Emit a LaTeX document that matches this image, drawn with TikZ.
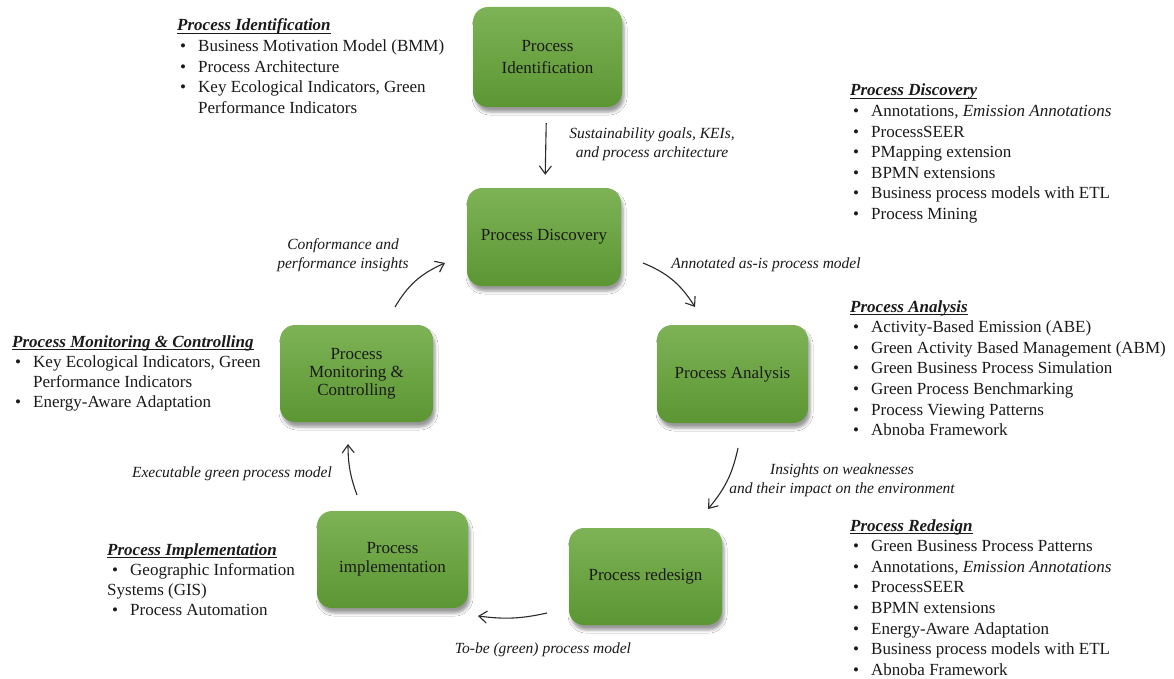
\documentclass[tikz,border=0pt]{standalone}
\usepackage{fontspec}
\setmainfont{Liberation Serif}
\usetikzlibrary{arrows.meta,shadows.blur,bending}
\definecolor{boxtop}{HTML}{7DB356}
\definecolor{boxbot}{HTML}{5C9633}
\definecolor{inkc}{HTML}{1A1A1A}
\definecolor{arrowc}{HTML}{2A2A2A}
\newcommand\lsthead[1]{\hbox{\setbox0=\hbox{\bfseries\itshape #1}\rlap{\rule[-2.8pt]{\wd0}{0.9pt}}\box0}}
\newcommand\lstitem[1]{\hbox{\hspace*{3pt}\makebox[18pt][l]{\textbullet}#1}}
\newcommand\lstcont[1]{\hbox{\hspace*{21pt}#1}}
\newcommand\lstflush[1]{\hbox{#1}}
\tikzset{
  procbox/.style={rounded corners=15pt, top color=boxtop, bottom color=boxbot, draw=none,
    inner sep=0pt, align=center, text=inkc, font=\fontsize{17}{19}\selectfont,
    blur shadow={shadow xshift=2pt, shadow yshift=-5pt, shadow blur radius=3pt, shadow opacity=40}},
  lbl/.style={font=\fontsize{15.5}{19}\selectfont\itshape, align=center, inner sep=0pt, text=inkc},
  lst/.style={anchor=base west, inner sep=0pt, text=inkc, font=\fontsize{17}{20.6}\selectfont},
  conn/.style={line width=1.1pt, draw=arrowc, -{Straight Barb[length=8pt,width=12pt,bend]}}
}
\begin{document}
\begin{tikzpicture}[x=1pt,y=-1pt]
\useasboundingbox[fill=white] (0,0) rectangle (1174,679);

% process boxes
\node[procbox, minimum width=149pt, minimum height=100pt] (ident) at (547.5,57) {Process\\[3pt]Identification};
\node[procbox, minimum width=154pt, minimum height=98pt] (disc) at (544,237) {Process Discovery};
\node[procbox, minimum width=151pt, minimum height=98pt] (anal) at (732.5,374) {Process Analysis};
\node[procbox, minimum width=153pt, minimum height=97pt] (redes) at (645.5,576.5) {Process redesign};
\node[procbox, minimum width=151pt, minimum height=97pt] (impl) at (392.5,559.5) {Process\\implementation};
\node[procbox, minimum width=153pt, minimum height=97pt, font=\fontsize{17}{18}\selectfont] (monit) at (356.5,373.5) {Process\\Monitoring \&\\Controlling};

% connector end points
\coordinate (a2s) at (643,263); \coordinate (a2e) at (695,307);
\coordinate (a3s) at (738,448); \coordinate (a3e) at (708,509);
\coordinate (a4s) at (547,613); \coordinate (a4e) at (478,616);
\coordinate (a5s) at (357,495); \coordinate (a5e) at (348,444);
\coordinate (a6s) at (395,307); \coordinate (a6e) at (445,263);

% connectors
\draw[conn, shorten <=16pt, shorten >=13pt] (ident) -- (disc);
\draw[conn] (a2s) to[bend left=18] (a2e);
\draw[conn] (a3s) to[bend left=14] (a3e);
\draw[conn] (a4s) to[bend left=10] (a4e);
\draw[conn] (a5s) to[bend left=10] (a5e);
\draw[conn] (a6s) to[bend left=18] (a6e);

% connector labels
\node[lbl] (l1) at (652,144) {Sustainability goals, KEIs,\\and process architecture};
\node[lbl] (l2) at (766,265) {Annotated as-is process model};
\node[lbl] (l3) at (842,480) {Insights on weaknesses\\and their impact on the environment};
\node[lbl] (l4) at (543,650) {To-be (green) process model};
\node[lbl] (l5) at (232,474) {Executable green process model};
\node[lbl] (l6) at (343,255) {Conformance and\\performance insights};

% lists
\node[lst] (identlist) at (177,31) {\vtop{\fontsize{17}{20.6}\selectfont
  \lsthead{Process Identification}
  \lstitem{Business Motivation Model (BMM)}
  \lstitem{Process Architecture}
  \lstitem{Key Ecological Indicators, Green}
  \lstcont{Performance Indicators}}};

\node[lst] (disclist) at (850,96) {\vtop{\fontsize{17}{20.6}\selectfont
  \lsthead{Process Discovery}
  \lstitem{Annotations, \textit{Emission Annotations}}
  \lstitem{ProcessSEER}
  \lstitem{PMapping extension}
  \lstitem{BPMN extensions}
  \lstitem{Business process models with ETL}
  \lstitem{Process Mining}}};

\node[lst] (anallist) at (850,312) {\vtop{\fontsize{17}{20.6}\selectfont
  \lsthead{Process Analysis}
  \lstitem{Activity-Based Emission (ABE)}
  \lstitem{Green Activity Based Management (ABM)}
  \lstitem{Green Business Process Simulation}
  \lstitem{Green Process Benchmarking}
  \lstitem{Process Viewing Patterns}
  \lstitem{Abnoba Framework}}};

\node[lst] (redeslist) at (850,531) {\vtop{\fontsize{17}{20.6}\selectfont
  \lsthead{Process Redesign}
  \lstitem{Green Business Process Patterns}
  \lstitem{Annotations, \textit{Emission Annotations}}
  \lstitem{ProcessSEER}
  \lstitem{BPMN extensions}
  \lstitem{Energy-Aware Adaptation}
  \lstitem{Business process models with ETL}
  \lstitem{Abnoba Framework}}};

\node[lst] (monitlist) at (12,347) {\vtop{\fontsize{17}{20.3}\selectfont
  \lsthead{Process Monitoring \& Controlling}
  \lstitem{Key Ecological Indicators, Green}
  \lstcont{Performance Indicators}
  \lstitem{Energy-Aware Adaptation}}};

\node[lst] (impllist) at (107,555) {\vtop{\fontsize{17}{20.3}\selectfont
  \lsthead{Process Implementation}
  \hbox{\hspace*{5pt}\makebox[18pt][l]{\textbullet}Geographic Information}
  \lstflush{Systems (GIS)}
  \hbox{\hspace*{5pt}\makebox[18pt][l]{\textbullet}Process Automation}}};
\end{tikzpicture}
\end{document}
